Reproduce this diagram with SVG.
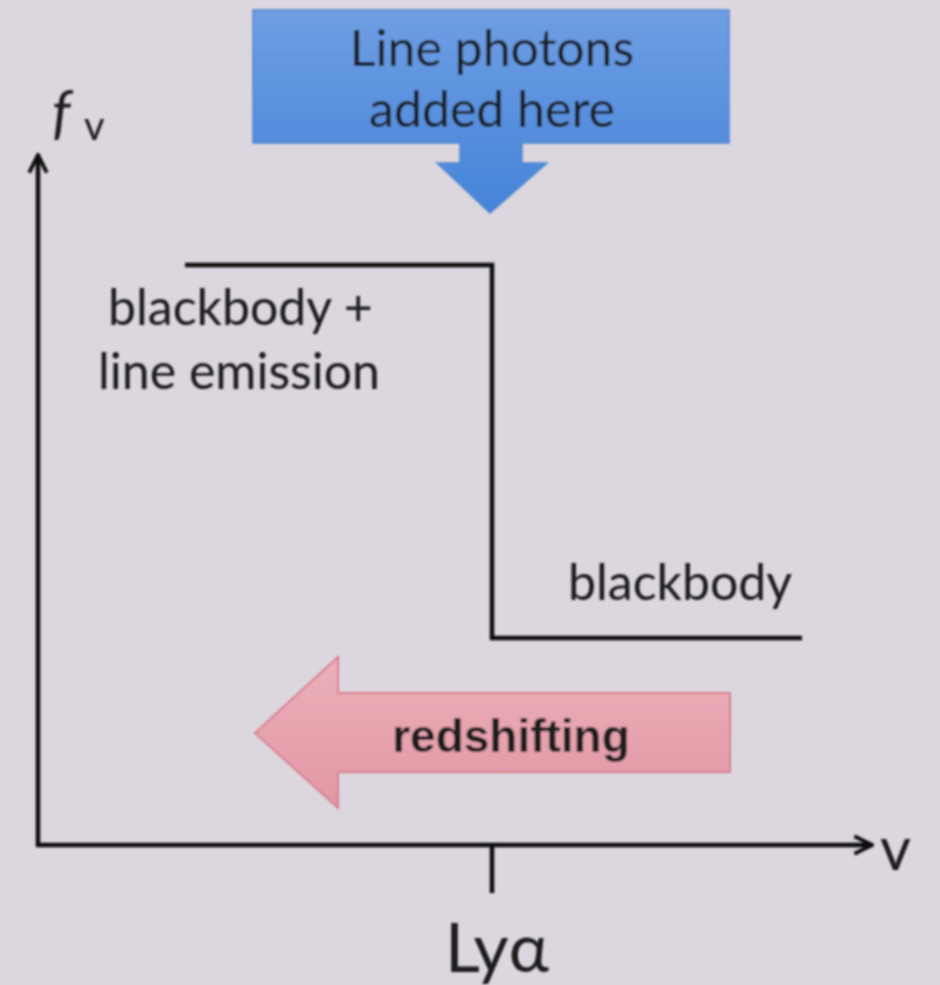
<svg xmlns="http://www.w3.org/2000/svg" width="940" height="985" viewBox="0 0 940 985">
  <defs>
    <linearGradient id="blueFill" x1="0" y1="0" x2="0" y2="1">
      <stop offset="0" stop-color="#6f9ee3"/>
      <stop offset="1" stop-color="#4584d9"/>
    </linearGradient>
    <linearGradient id="redFill" x1="0" y1="0" x2="0" y2="1">
      <stop offset="0" stop-color="#eab0b9"/>
      <stop offset="1" stop-color="#e297a4"/>
    </linearGradient>
    <marker id="openHead" viewBox="0 0 20 20" refX="18" refY="10" markerWidth="22" markerHeight="22" markerUnits="userSpaceOnUse" orient="auto">
      <path d="M2,2 L18,10 L2,18" fill="none" stroke="#111" stroke-width="3.5"/>
    </marker>
    <filter id="soft" x="-5%" y="-5%" width="110%" height="110%">
      <feGaussianBlur stdDeviation="0.8"/>
    </filter>
  </defs>
  <style>
    .lbl { font-family: Lato, "Open Sans", "Liberation Sans", sans-serif; fill: #1a1a1a; }
    .bold { font-family: "Liberation Sans", Arial, sans-serif; font-weight: bold; }
    .axis { stroke: #111; stroke-width: 4.5; fill: none; }
    .curve { stroke: #111; stroke-width: 4.5; fill: none; }
  </style>

  <rect x="0" y="0" width="940" height="985" fill="#dcd6df"/>

  <g filter="url(#soft)">
    <!-- axes -->
    <g id="axes">
      <line class="axis" x1="38" y1="847" x2="38" y2="155" marker-end="url(#openHead)"/>
      <line class="axis" x1="36" y1="845" x2="872" y2="845" marker-end="url(#openHead)"/>
      <line class="axis" x1="492" y1="845" x2="492" y2="893"/>
      <text class="lbl" x="52" y="132" font-size="58" font-style="italic" font-family="'Liberation Serif', serif">f</text>
      <text class="lbl" x="84" y="140" font-size="40">v</text>
      <text class="lbl" x="880" y="870" font-size="60">v</text>
      <text class="lbl" x="497" y="972" font-size="68" text-anchor="middle">Lyα</text>
    </g>

    <!-- spectrum step -->
    <g id="spectrum">
      <path class="curve" d="M185,265 H492 V638 H802"/>
      <text class="lbl" x="108" y="325" font-size="50">blackbody +</text>
      <text class="lbl" x="98" y="389" font-size="50">line emission</text>
      <text class="lbl" x="568" y="600" font-size="50">blackbody</text>
    </g>

    <!-- line photons callout -->
    <g id="line-photons">
      <path d="M253,10 H729 V143 H522 V163 H547 L490,213 L437,163 H460 V143 H253 Z" fill="url(#blueFill)" stroke="#4f86d0" stroke-width="1.5"/>
      <text class="lbl" x="492" y="66" font-size="50" text-anchor="middle" fill="#152040">Line photons</text>
      <text class="lbl" x="492" y="127" font-size="50" text-anchor="middle" fill="#152040">added here</text>
    </g>

    <!-- redshifting arrow -->
    <g id="redshifting">
      <path d="M255,733 L338,657 V693 H730 V772 H338 V808 Z" fill="url(#redFill)" stroke="#d9808f" stroke-width="2"/>
      <text class="lbl bold" x="511" y="752" font-size="46" text-anchor="middle" fill="#1a1012">redshifting</text>
    </g>
  </g>
</svg>
